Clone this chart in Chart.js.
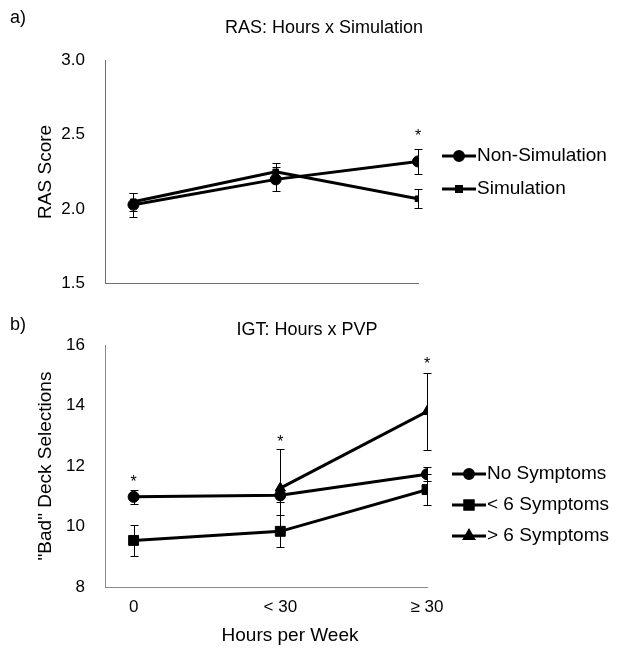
<!DOCTYPE html>
<html lang="en">
<head>
<meta charset="UTF-8">
<title>RAS and IGT by hours per week</title>
<script src="https://cdn.jsdelivr.net/npm/chart.js"></script>
<style>
  body { margin: 0; background: #fff; }
  #wrap { position: relative; width: 622px; height: 650px; overflow: hidden; }
  canvas { position: absolute; left: 0; }
  #rasChart { top: 0; }
  #igtChart { top: 305px; }
</style>
</head>
<body>
<div id="wrap">
  <canvas id="rasChart" width="622" height="314"></canvas>
  <canvas id="igtChart" width="622" height="345"></canvas>
</div>
<script>
// x categories, shared by both panels
const hourGroups = ['0', '< 30', '\u2265 30'];
const hourIdx = [0, 1, 2];

// a) RAS score
const rasTicks = [1.5, 2.0, 2.5, 3.0];
const rasNonSim = [2.03, 2.20, 2.32];
const rasNonSimErr = [0.08, 0.08, 0.085];
const rasSim = [2.05, 2.25, 2.07];
const rasSimErr = [0.06, 0.06, 0.065];
const rasStars = [null, null, 2.52];

// b) IGT "bad" deck selections
const igtTicks = [8, 10, 12, 14, 16];
const igtNone = [10.98, 11.03, 11.73];
const igtNoneErr = [0.22, 0.22, 0.24];
const igtUnder6 = [9.54, 9.84, 11.22];
const igtUnder6Err = [0.52, 0.53, 0.5];
const igtOver6 = [null, 11.27, 13.8];
const igtOver6Err = [null, 1.3, 1.27];
const igtStars = [11.6, 12.94, 15.5];

const FONT = "'Liberation Sans', Arial, sans-serif";

// error bars, stars, panel letter, titles and the Excel-like legend
const extras = {
    id: 'extras',
    beforeDatasetsDraw(chart) {
        const ctx = chart.ctx, xs = chart.scales.x, ys = chart.scales.y;
        ctx.save();
        ctx.strokeStyle = '#000';
        ctx.lineWidth = 1;
        chart.data.datasets.forEach(ds => {
            (ds.errors || []).forEach((e, i) => {
                const v = ds.data[i];
                if (e == null || v == null) return;
                const x = Math.round(xs.getPixelForValue(hourIdx[i])) + 0.5;
                const y1 = Math.round(ys.getPixelForValue(v - e)) + 0.5;
                const y2 = Math.round(ys.getPixelForValue(v + e)) + 0.5;
                ctx.beginPath();
                ctx.moveTo(x, y1); ctx.lineTo(x, y2);
                ctx.moveTo(x - 4, y1); ctx.lineTo(x + 4, y1);
                ctx.moveTo(x - 4, y2); ctx.lineTo(x + 4, y2);
                ctx.stroke();
            });
        });
        ctx.restore();
    },
    afterDraw(chart, args, opts) {
        const ctx = chart.ctx, xs = chart.scales.x, ys = chart.scales.y;
        const area = chart.chartArea;
        ctx.save();
        ctx.fillStyle = '#000';

        // significance stars
        ctx.font = '16px ' + FONT;
        ctx.textAlign = 'center';
        ctx.textBaseline = 'alphabetic';
        opts.stars.forEach((s, i) => {
            if (s == null) return;
            ctx.fillText('*', xs.getPixelForValue(hourIdx[i]), ys.getPixelForValue(s) + 9);
        });

        // panel letter and title
        ctx.font = '18px ' + FONT;
        ctx.textBaseline = 'middle';
        ctx.textAlign = 'left';
        ctx.fillText(opts.letter, 10, opts.letterY);
        ctx.textAlign = 'center';
        ctx.fillText(opts.title, opts.titleX, opts.titleY);

        // x axis title (sits a bit right of the plot centre in the original)
        if (opts.xTitle) {
            ctx.font = '19px ' + FONT;
            ctx.fillText(opts.xTitle, (area.left + area.right) / 2 + opts.xTitleShift, chart.height - 14);
        }

        // legend: line sample with marker, then label
        ctx.font = '19px ' + FONT;
        ctx.textAlign = 'left';
        const lx = area.right + opts.legendX;
        chart.data.datasets.forEach((ds, i) => {
            const y = Math.round((area.top + area.bottom) / 2 + opts.legendY + i * opts.legendGap);
            ctx.strokeStyle = '#000';
            ctx.lineWidth = 3;
            ctx.beginPath();
            ctx.moveTo(lx, y); ctx.lineTo(lx + 34, y);
            ctx.stroke();
            Chart.helpers.drawPoint(ctx, {
                pointStyle: ds.pointStyle, radius: ds.legendRadius, rotation: 0, borderWidth: 1
            }, lx + 17, y);
            ctx.fillText(ds.label, lx + 35, y);
        });
        ctx.restore();
    }
};

function series(label, data, errors, style, radius, legendRadius) {
    return {
        label: label, data: data, errors: errors,
        borderColor: '#000', backgroundColor: '#000', borderWidth: 3,
        pointStyle: style, pointRadius: radius, pointBorderWidth: 1,
        pointBackgroundColor: '#000', pointBorderColor: '#000',
        legendRadius: legendRadius, spanGaps: false, tension: 0
    };
}

function makeChart(id, c) {
    const tickFont = { family: FONT, size: 17 };
    return new Chart(document.getElementById(id), {
        type: 'line',
        data: { labels: hourIdx, datasets: c.datasets },
        options: {
            responsive: false,
            animation: false,
            layout: { padding: c.padding },
            plugins: {
                legend: { display: false },
                tooltip: { enabled: false },
                extras: c.extras
            },
            scales: {
                x: {
                    type: 'linear',
                    min: c.xMin,
                    max: 2,
                    afterBuildTicks: s => { s.ticks = hourIdx.map(v => ({ value: v })); },
                    afterFit: s => { s.height = c.xHeight; },
                    grid: { display: false, drawTicks: false },
                    border: { display: true, color: c.axisColor, width: 1 },
                    ticks: {
                        display: c.showX, color: '#000', font: tickFont, padding: 10,
                        maxRotation: 0, autoSkip: false,
                        callback: v => hourGroups[v]
                    }
                },
                y: {
                    min: c.yTicks[0],
                    max: c.yTicks[c.yTicks.length - 1],
                    afterBuildTicks: s => { s.ticks = c.yTicks.map(v => ({ value: v })); },
                    afterFit: s => { s.width = 105 - c.padding.left; },
                    grid: { display: false, drawTicks: false },
                    border: { display: true, color: c.axisColor, width: 1 },
                    ticks: {
                        color: '#000', font: tickFont, padding: 20,
                        callback: v => v.toFixed(c.decimals)
                    },
                    title: {
                        display: true, text: c.yTitle, color: '#000',
                        font: { family: FONT, size: 19 }, padding: { top: 14, bottom: 0 }
                    }
                }
            }
        },
        plugins: [extras]
    });
}

makeChart('rasChart', {
    datasets: [
        series('Non-Simulation', rasNonSim, rasNonSimErr, 'circle', 5.5, 4.5),
        series('Simulation', rasSim, rasSimErr, 'rect', 4, 3.5)
    ],
    yTicks: rasTicks, decimals: 1, yTitle: 'RAS Score',
    xMin: -0.2, xHeight: 0, showX: false, axisColor: '#6e6e6e',
    padding: { left: 20, right: 204, top: 60, bottom: 14 },
    extras: {
        stars: rasStars, letter: 'a)', letterY: 18,
        title: 'RAS: Hours x Simulation', titleX: 324, titleY: 28,
        legendX: 24, legendY: -16, legendGap: 33
    }
});

makeChart('igtChart', {
    datasets: [
        series('No Symptoms', igtNone, igtNoneErr, 'circle', 5.5, 4.5),
        series('< 6 Symptoms', igtUnder6, igtUnder6Err, 'rect', 7, 6),
        series('> 6 Symptoms', igtOver6, igtOver6Err, 'triangle', 6, 5)
    ],
    yTicks: igtTicks, decimals: 0, yTitle: '"Bad" Deck Selections',
    xMin: -0.195, xHeight: 63, showX: true, axisColor: '#8a8a8a',
    padding: { left: 20, right: 195, top: 40, bottom: 0 },
    extras: {
        stars: igtStars, letter: 'b)', letterY: 20,
        title: 'IGT: Hours x PVP', titleX: 307, titleY: 25,
        xTitle: 'Hours per Week', xTitleShift: 24,
        legendX: 25, legendY: 8, legendGap: 31
    }
});
</script>
</body>
</html>
